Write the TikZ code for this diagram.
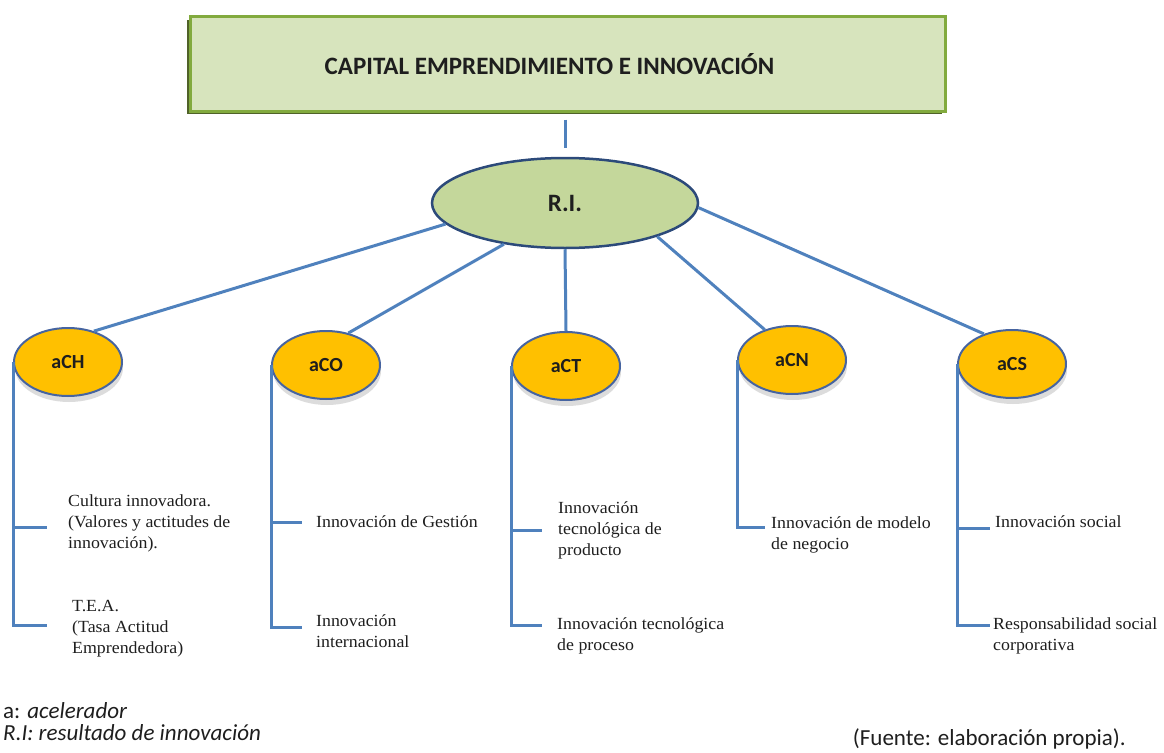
\documentclass[tikz,border=0pt]{standalone}
\usepackage{fontspec}
\setmainfont{Liberation Serif}[FakeStretch=1.05]
\newfontfamily\carlito{Carlito}
\usetikzlibrary{shapes.geometric,shadows}

\definecolor{boxfill}{RGB}{215,228,189}
\definecolor{boxline}{RGB}{130,170,62}
\definecolor{boxshade}{RGB}{79,98,40}
\definecolor{rifill}{RGB}{196,215,155}
\definecolor{riline}{RGB}{44,74,122}
\definecolor{goldfill}{RGB}{255,192,0}
\definecolor{goldline}{RGB}{70,100,160}
\definecolor{linkblue}{RGB}{79,129,189}
\definecolor{ink}{RGB}{30,30,30}

\begin{document}
\begin{tikzpicture}[x=1pt,y=-1pt,
  topbox/.style={rectangle, draw=boxline, line width=3pt, fill=boxfill,
    minimum width=755pt, minimum height=94pt, inner sep=0pt,
    drop shadow={shadow xshift=-3pt, shadow yshift=-3pt, fill=boxshade, opacity=1}},
  capfont/.style={font=\carlito\bfseries\fontsize{25}{30}\selectfont, text=ink},
  hub/.style={ellipse, draw=riline, line width=2.5pt, fill=rifill,
    minimum width=266pt, minimum height=90pt, inner sep=0pt,
    font=\carlito\bfseries\fontsize{25}{30}\selectfont, text=ink},
  accel/.style={ellipse, draw=goldline, line width=2pt, fill=goldfill,
    minimum width=108pt, minimum height=68pt, inner sep=0pt,
    font=\carlito\bfseries\fontsize{20}{24}\selectfont, text=ink,
    drop shadow={shadow xshift=1pt, shadow yshift=-6pt, fill=black!30, opacity=.45}},
  leaf/.style={anchor=west, align=left, inner sep=0pt,
    font=\fontsize{17}{21}\selectfont, text=ink},
  link/.style={draw=linkblue, line width=3pt},
  legend/.style={inner sep=0pt, font=\carlito\fontsize{23}{27}\selectfont, text=ink}]

\useasboundingbox (0,0) rectangle (1164,752);

% title box and result node
\node[topbox, label={[capfont, xshift=-18pt]center:CAPITAL EMPRENDIMIENTO E INNOVACIÓN}] (cap) at (567.5,64) {};
\node[hub] (RI) at (565,203) {R.I.};

% accelerators
\node[accel] (aCH) at (68,362) {aCH};
\node[accel] (aCO) at (326,365) {aCO};
\node[accel] (aCT) at (566,366) {aCT};
\node[accel] (aCN) at (792,360) {aCN};
\node[accel] (aCS) at (1012,364) {aCS};

% links from the result node
\draw[link, shorten <=7pt, shorten >=9pt] (RI.north |- cap.south) -- (RI.north);
\draw[link] (RI.190) -- (aCH.50);
\draw[link] (RI.214) -- (aCO.55);
\draw[link] (RI.south) -- (aCT.north);
\draw[link] (RI.340) -- (aCN.132);
\draw[link] (RI.358) -- (aCS.133);

% leaf texts
\node[leaf] (ch1) at (68,523) {Cultura innovadora.\\(Valores y actitudes de\\innovación).};
\node[leaf] (ch2) at (72,629) {T.E.A.\\(Tasa Actitud\\Emprendedora)};
\node[leaf] (co1) at (316,522) {Innovación de Gestión};
\node[leaf] (co2) at (316,631) {Innovación\\internacional};
\node[leaf] (ct1) at (558,530) {Innovación\\tecnológica de\\producto};
\node[leaf] (ct2) at (557,636) {Innovación tecnológica\\de proceso};
\node[leaf] (cn1) at (771,535) {Innovación de modelo\\de negocio};
\node[leaf] (cs1) at (995,522) {Innovación social};
\node[leaf] (cs2) at (993,636) {Responsabilidad social\\corporativa};

% branch ends
\coordinate (h11) at (47,527);  \coordinate (h12) at (47,625);
\coordinate (h21) at (302,522); \coordinate (h22) at (302,627);
\coordinate (h31) at (542,530); \coordinate (h32) at (542,625);
\coordinate (h41) at (765,527);
\coordinate (h51) at (990,528); \coordinate (h52) at (990,625);

\draw[link] (aCH.west) |- (h11);
\draw[link] (aCH.west) |- (h12);
\draw[link] (aCO.west) |- (h21);
\draw[link] (aCO.west) |- (h22);
\draw[link] (aCT.west) |- (h31);
\draw[link] (aCT.west) |- (h32);
\draw[link] (aCN.west) |- (h41);
\draw[link] (aCS.west) |- (h51);
\draw[link] (aCS.west) |- (h52);

% legend and source
\node[legend, anchor=base west] (lg1) at (3,718) {a: \textit{acelerador}};
\node[legend, anchor=base west] (lg2) at (3,740) {\textit{R.I: resultado de innovación}};
\node[legend, anchor=base east] (src) at (1126,745) {(Fuente: elaboración propia).};
\end{tikzpicture}
\end{document}
